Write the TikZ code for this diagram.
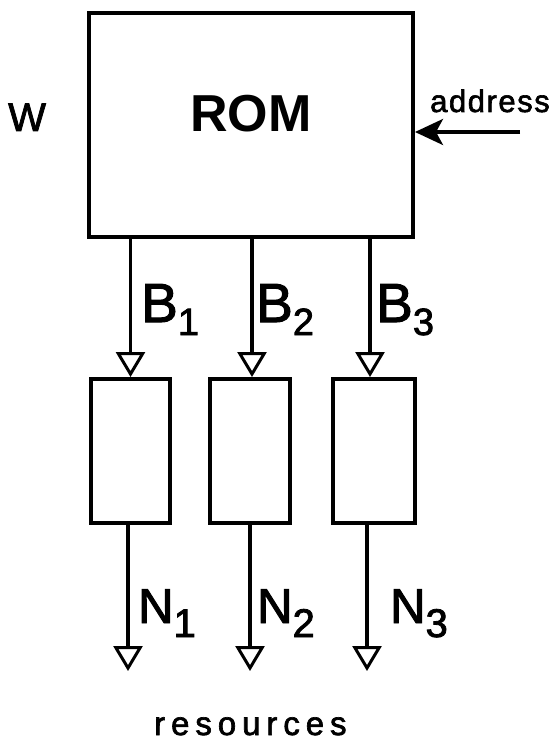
\documentclass[tikz,border=0pt]{standalone}
\usepackage{fontspec}
\setmainfont{Liberation Sans}
\usetikzlibrary{arrows.meta}
\newcommand{\blbl}[1]{{\fontsize{55}{60}\selectfont B}\raisebox{-13pt}{\fontsize{38}{40}\selectfont #1}}
\newcommand{\nlbl}[1]{{\fontsize{49}{54}\selectfont N}\raisebox{-14pt}{\fontsize{40}{44}\selectfont #1}}
\begin{document}
\begin{tikzpicture}[x=1pt,y=-1pt,
  box/.style={draw,line width=4pt,inner sep=0pt,anchor=north west},
  flow/.style={line width=3.5pt,-{Triangle[open,length=25pt,width=29pt,line width=3pt]}},
  inarrow/.style={line width=3.5pt,-{Stealth[length=28pt,width=26pt,inset=7pt]}},
  lbl/.style={inner sep=0pt,anchor=base west,font=\addfontfeature{FakeBold=2}}]
\useasboundingbox (0,0) rectangle (559,746);
\node[box,minimum width=324pt,minimum height=224pt] (rom) at (87,11) {};
\node[inner sep=0pt,font=\fontsize{52}{56}\selectfont\bfseries] (romtxt) at (251,113.5) {ROM};
\node[lbl,font=\fontsize{40}{44}\selectfont\addfontfeature{FakeBold=2}] (w) at (8,131) {W};
\node[lbl,font=\fontsize{31}{35}\selectfont\addfontfeature{LetterSpace=5,FakeBold=2}] (addrtxt) at (430,112) {address};
\coordinate (addr) at (520,132);
\draw[inarrow] (addr) -- (addr -| rom.east);

\node[box,minimum width=79pt,minimum height=144pt] (b1) at (89,377) {};
\node[box,minimum width=80pt,minimum height=144pt] (b2) at (208,377) {};
\node[box,minimum width=82pt,minimum height=144pt] (b3) at (331,377) {};

\coordinate (t1) at (b1.north);
\coordinate (t2) at ([xshift=2pt]b2.north);
\coordinate (t3) at ([xshift=-4pt]b3.north);
\draw[flow] (rom.south -| t1) -- (t1);
\draw[flow] (rom.south -| t2) -- (t2);
\draw[flow] (rom.south -| t3) -- (t3);

\coordinate (e1) at (128,671);
\coordinate (e2) at (250,671);
\coordinate (e3) at (367,671);
\draw[flow] (e1 |- b1.south) -- (e1);
\draw[flow] (e2 |- b2.south) -- (e2);
\draw[flow] (e3 |- b3.south) -- (e3);

\node[lbl] (lb1) at (141,322) {\blbl{1}};
\node[lbl] (lb2) at (256,322) {\blbl{2}};
\node[lbl] (lb3) at (376,322) {\blbl{3}};

\node[lbl] (ln1) at (138,623) {\nlbl{1}};
\node[lbl] (ln2) at (257,623) {\nlbl{2}};
\node[lbl] (ln3) at (390,623) {\nlbl{3}};

\node[lbl,font=\fontsize{33}{37}\selectfont\addfontfeature{LetterSpace=18,FakeBold=2}] (res) at (154,735) {resources};
\end{tikzpicture}
\end{document}
